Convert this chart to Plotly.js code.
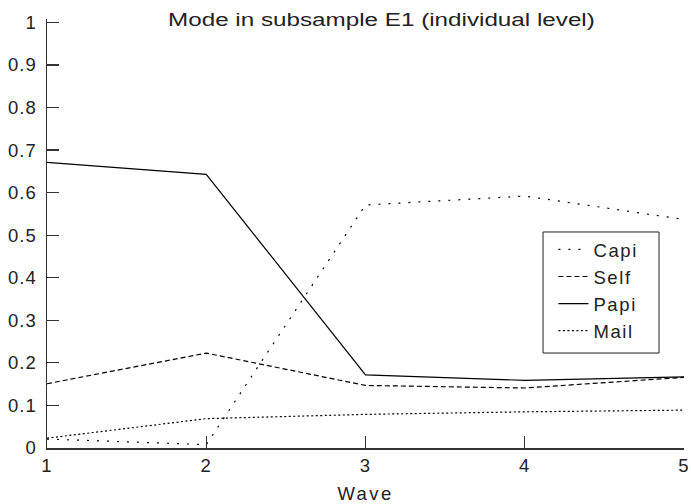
<!DOCTYPE html>
<html><head><meta charset="utf-8">
<script src="https://cdn.plot.ly/plotly-3.0.1.min.js"></script>
<style>
html,body{margin:0;padding:0;background:#fff}
#chart{width:691px;height:504px}
#chart .xtick text, #chart .ytick text{letter-spacing:1px}
#chart .legendtext{letter-spacing:1.6px}
#chart .xtitle{letter-spacing:2.4px}
#chart .gtitle{transform-box:fill-box;transform-origin:center;transform:scaleX(1.31)}
</style>
</head><body><div id="chart"></div>
<script>
const waves = [1, 2, 3, 4, 5];
const capi = [0.021, 0.008, 0.571, 0.592, 0.537];
const self = [0.151, 0.223, 0.147, 0.141, 0.166];
const papi = [0.671, 0.643, 0.172, 0.159, 0.167];
const mail = [0.023, 0.069, 0.079, 0.085, 0.089];
const yTicks = [0, 0.1, 0.2, 0.3, 0.4, 0.5, 0.6, 0.7, 0.8, 0.9, 1];
const yTickText = ['0', '0.1', '0.2', '0.3', '0.4', '0.5', '0.6', '0.7', '0.8', '0.9', '1'];

const font = 'Liberation Sans, Arial, Helvetica, sans-serif';
const fs = 18.5;
const mk = (name, y, dash) => ({
  x: waves, y: y, name: name, type: 'scatter', mode: 'lines',
  line: {color: '#000', width: 1.2, dash: dash}
});
const data = [
  mk('Capi', capi, '2px,8px'),
  mk('Self', self, '5px,3px'),
  mk('Papi', papi, 'solid'),
  mk('Mail', mail, '2px,2.5px')
];
const layout = {
  width: 691, height: 504,
  margin: {l: 47, r: 7, t: 19, b: 56},
  paper_bgcolor: '#fff', plot_bgcolor: '#fff',
  font: {family: font, color: '#222', size: fs},
  showlegend: true,
  title: {text: 'Mode in subsample E1 (individual level)', x: 0.552, xanchor: 'center',
          y: 0.961, yanchor: 'middle', yref: 'container', font: {family: font, size: fs, color: '#222'}},
  xaxis: {
    range: [1, 5], tickvals: waves, ticktext: waves.map(String),
    ticks: 'inside', ticklen: 12, tickcolor: '#333', tickwidth: 1.2,
    showline: true, linecolor: '#333', linewidth: 1.5, showgrid: false, zeroline: false,
    tickfont: {size: fs, family: font}, fixedrange: true,
    title: {text: 'Wave', font: {size: fs, family: font}, standoff: 12}
  },
  yaxis: {
    range: [0, 1.008], tickvals: yTicks, ticktext: yTickText,
    ticks: 'inside', ticklen: 12, tickcolor: '#333', tickwidth: 1.2,
    showline: true, linecolor: '#333', linewidth: 1.5, showgrid: false, zeroline: false,
    tickfont: {size: fs, family: font}, fixedrange: true, ticklabelstandoff: 5
  },
  shapes: [{
    type: 'rect', xref: 'paper', yref: 'paper',
    x0: 0.7787, x1: 0.9608, y0: 0.2214, y1: 0.5035,
    line: {color: '#222', width: 1}, fillcolor: '#fff', layer: 'above'
  }],
  legend: {
    x: 0.795, y: 0.506, xanchor: 'left', yanchor: 'top',
    borderwidth: 0, bgcolor: 'rgba(0,0,0,0)',
    font: {size: fs, family: font, color: '#222'},
    tracegroupgap: 0
  }
};
Plotly.newPlot('chart', data, layout, {displayModeBar: false, staticPlot: true});
</script></body></html>
